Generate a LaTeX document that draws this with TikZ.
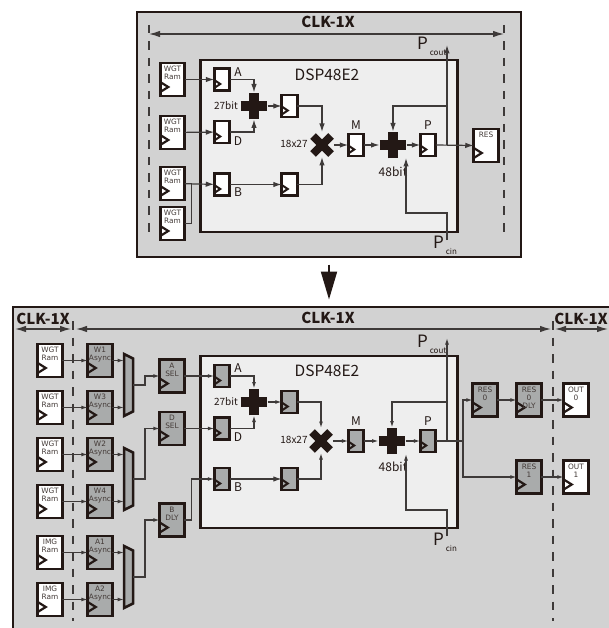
\documentclass[tikz,border=0pt]{standalone}
\usepackage{fontspec}
\setmainfont{Noto Sans CJK SC}
\newfontfamily\boxfont{DejaVu Sans}
\usepackage{xcolor}
\usetikzlibrary{arrows.meta,positioning,shapes.misc}
\definecolor{ink}{HTML}{231815}
\definecolor{wirecol}{HTML}{3E3A39}
\definecolor{panelcol}{HTML}{D2D2D2}
\definecolor{dspcol}{HTML}{EEEEEE}
\definecolor{regcol}{HTML}{A9ABAB}
\newcommand{\boxlines}[1]{\begin{tabular}[t]{@{}c@{}}#1\end{tabular}}
\newcommand{\portsub}[1]{\raisebox{-6pt}{\hspace{2pt}\fontsize{8}{9}\selectfont #1}}

\begin{document}
\begin{tikzpicture}[
x=1pt, y=-1pt,
every node/.style={outer sep=0pt, inner sep=0pt, text=ink},
panel/.style={draw=ink, line width=2.8pt, fill=panelcol},
dsp/.style={draw=ink, line width=2.5pt, fill=dspcol, minimum width=257pt, minimum height=172pt},
clkmark/.style n args={4}{path picture={\draw[ink, line width=#4, line join=miter] ([yshift=-#1+#3]path picture bounding box.west) -- ([xshift=#2,yshift=-#1]path picture bounding box.west) -- ([yshift=-#1-#3]path picture bounding box.west);}},
mem/.style={draw=ink, line width=2.6pt, fill=white, minimum width=24.5pt, minimum height=33pt, clkmark={7.5pt}{8pt}{5pt}{2.2pt}, text height=5pt, text depth=21pt, font=\boxfont\fontsize{7.4}{8}\selectfont, text=ink!85},
stage/.style={mem, fill=regcol},
reg/.style={draw=ink, line width=2.6pt, fill=white, minimum width=15.5pt, minimum height=22pt, clkmark={4.5pt}{6pt}{4pt}{2pt}},
greyreg/.style={reg, fill=regcol},
mux/.style={minimum width=9pt, minimum height=62pt, append after command={\pgfextra{\draw[draw=ink, line width=2.5pt, fill=regcol] (\tikzlastnode.north west) -- ([yshift=-4.5pt]\tikzlastnode.north east) -- ([yshift=4.5pt]\tikzlastnode.south east) -- (\tikzlastnode.south west) -- cycle;}}},
plusop/.style={draw=ink, line width=9.5pt, cross out, rotate=45, minimum size=19pt},
multop/.style={draw=ink, line width=8pt, cross out, minimum size=18pt},
wire/.style={draw=wirecol, line width=1.2pt},
arrow/.style={wire, -{Latex[length=8.5pt, width=5.5pt]}},
smallarrow/.style={wire, -{Latex[length=6.5pt, width=4pt]}},
span/.style={draw=wirecol, line width=1.2pt, {Latex[length=11pt, width=6.5pt]}-{Latex[length=11pt, width=6.5pt]}},
clkline/.style={draw=wirecol, line width=1.2pt, dash pattern=on 8.5pt off 8pt},
clktext/.style={font=\bfseries\fontsize{15}{16}\selectfont},
optext/.style={font=\fontsize{10}{11}\selectfont},
regtext/.style={font=\fontsize{12}{13}\selectfont},
bigoptext/.style={font=\fontsize{12}{13}\selectfont},
titletext/.style={font=\fontsize{15.5}{16}\selectfont},
porttext/.style={anchor=base west, font=\fontsize{17}{18}\selectfont}
]
\useasboundingbox (0,0) rectangle (609,628);

% one clock domain
\node[panel, minimum width=384pt, minimum height=245pt] (tpanel) at (329,134.5) {};
\node[clktext] (tclk) at (328,22) {CLK-1X};
\coordinate (tl) at (149,34);
\coordinate (tr) at (504,34);
\draw[clkline] (149,25) -- (149,232);
\draw[clkline] (504,25) -- (504,232);
\draw[span] (tl) -- (tr);
\node[dsp] (tdsp) at (329,146) {};
\node[titletext] (ttitle) at (327,75) {DSP48E2};

\node[mem] (tw1) at (172.5,79.5) {\boxlines{WGT\\Ram}};
\node[mem, below=20pt of tw1] (tw2) {\boxlines{WGT\\Ram}};
\node[mem, below=18pt of tw2] (tw3) {\boxlines{WGT\\Ram}};
\node[mem, below=7pt of tw3] (tw4) {\boxlines{WGT\\Ram}};
\node[reg] (ta) at (222,79.5) {};
\node[reg, below=30.5pt of ta] (td) {};
\node[reg, below=30.5pt of td] (tb) {};
\node[reg, right=52pt of ta, yshift=-26.5pt] (tc) {};
\node[reg, right=52pt of tb] (te) {};
\node[plusop] (tadd) at (254,106) {};
\node[multop] (tmul) at (322,145) {};
\node[reg] (tm) at (356,145) {};
\node[plusop] (tsum) at (393,145) {};
\node[reg] (tp) at (428,145) {};
\node[mem] (tres) at (486,145.5) {RES};

\node[regtext] (tla) at (238,72) {A};
\node[regtext] (tld) at (238,141) {D};
\node[regtext] (tlb) at (238,192) {B};
\node[regtext] (tlm) at (356,125) {M};
\node[regtext] (tlp) at (428,125) {P};
\node[optext] (tl27) at (226,106) {27bit};
\node[optext] (tl18) at (294,144) {18x27};
\node[bigoptext] (tl48) at (393,172) {48bit};
\node[porttext] (tcout) at (417,50) {P\portsub{cout}};
\node[porttext] (tcin) at (433,248) {P\portsub{cin}};

\coordinate (tpo) at (447,145);
\coordinate (tpi) at (447,240);
\draw[arrow] (tw1) -- (ta);
\draw[arrow] (tw2) -- (td);
\draw[arrow] (tw3) -- (tb);
\draw[wire] (tw4.east) -- ++(7,0) |- (tw3.east);
\draw[arrow] (ta.east) -| ([yshift=13.5pt]tadd.center);
\draw[arrow] (td.east) -| ([yshift=-13.5pt]tadd.center);
\draw[arrow] ([xshift=13.5pt]tadd.center) -- (tc.west);
\draw[arrow] (tc.east) -| ([yshift=13pt]tmul.center);
\draw[arrow] (tb) -- (te);
\draw[arrow] (te.east) -| ([yshift=-12pt]tmul.center);
\draw[arrow] ([xshift=12pt]tmul.center) -- (tm.west);
\draw[arrow] (tm.east) -- ([xshift=-13.5pt]tsum.center);
\draw[arrow] ([xshift=13.5pt]tsum.center) -- (tp.west);
\draw[arrow] (tp.east) -- (tres.west);
\draw[arrow] (tpo) -- (447,45);
\draw[arrow] (447,106) -| ([yshift=13.5pt]tsum.center);
\draw[arrow] (tpi) |- (406,213) -- (406,158);

% down to the three clock domains
\node (dtop) at (329,264) {};
\node (dend) at (329,300) {};
\draw[ink, line width=2pt, -{Triangle[length=28pt, width=16pt]}] (dtop) -- (dend);

\fill[panelcol] (13,307) rectangle (609,628);
\node (bcorner) at (13,307) {};
\draw[ink, line width=2.8pt] (13,628) -- (bcorner.center) -- (609,307);
\node[clktext] (bclk1) at (43,319) {CLK-1X};
\node[clktext] (bclk2) at (328,318) {CLK-1X};
\node[clktext] (bclk3) at (581,319) {CLK-1X};
\coordinate (bl1) at (15,329);
\coordinate (bl2) at (71,329);
\coordinate (bm1) at (76,329);
\coordinate (bm2) at (551,329);
\coordinate (br1) at (555,329);
\coordinate (br2) at (608,329);
\draw[clkline] (73,321) -- (73,621);
\draw[clkline] (553,321) -- (553,621);
\draw[span] (bl1) -- (bl2);
\draw[span] (bm1) -- (bm2);
\draw[span] (br1) -- (br2);
\node[dsp] (bdsp) at (329,442) {};
\node[titletext] (btitle) at (327,371) {DSP48E2};

\node[mem] (bw1) at (50,360.5) {\boxlines{WGT\\Ram}};
\node[mem, below=14pt of bw1] (bw3) {\boxlines{WGT\\Ram}};
\node[mem, below=14pt of bw3] (bw2) {\boxlines{WGT\\Ram}};
\node[mem, below=14pt of bw2] (bw4) {\boxlines{WGT\\Ram}};
\node[mem, below=18pt of bw4] (bi1) {\boxlines{IMG\\Ram}};
\node[mem, below=14pt of bi1] (bi2) {\boxlines{IMG\\Ram}};
\node[stage, right=25.5pt of bw1] (bs1) {\boxlines{W1\\Async}};
\node[stage, right=25.5pt of bw3] (bs3) {\boxlines{W3\\Async}};
\node[stage, right=25.5pt of bw2] (bs2) {\boxlines{W2\\Async}};
\node[stage, right=25.5pt of bw4] (bs4) {\boxlines{W4\\Async}};
\node[stage, right=25.5pt of bi1] (bs5) {\boxlines{A1\\Async}};
\node[stage, right=25.5pt of bi2] (bs6) {\boxlines{A2\\Async}};
\node[mux] (bm12) at (128.5,385) {};
\node[mux] (bm34) at (128.5,479) {};
\node[mux] (bm56) at (128.5,577) {};
\node[stage] (bsa) at (172,376) {\boxlines{A\\SEL}};
\node[stage] (bsd) at (172,428.5) {\boxlines{D\\SEL}};
\node[stage] (bsb) at (172,520) {\boxlines{B\\DLY}};
\node[greyreg] (ba) at (222,376) {};
\node[greyreg] (bd) at (222,428.5) {};
\node[greyreg] (bb) at (222,479) {};
\node[greyreg] (bc) at (289.5,402) {};
\node[greyreg] (be) at (289.5,479) {};
\node[plusop] (badd) at (254,402) {};
\node[multop] (bmul) at (321,441) {};
\node[greyreg] (bm) at (356,441) {};
\node[plusop] (bsum) at (392,441) {};
\node[greyreg] (bp) at (428,441) {};
\node[stage] (bres0) at (485,400) {\boxlines{RES\\0}};
\node[stage] (bdly0) at (529,400) {\boxlines{RES\\0\\DLY}};
\node[mem] (bout0) at (576,400) {\boxlines{OUT\\0}};
\node[stage] (bres1) at (529,477) {\boxlines{RES\\1}};
\node[mem] (bout1) at (576,477) {\boxlines{OUT\\1}};

\node[regtext] (bla) at (238,368) {A};
\node[regtext] (bld) at (238,437) {D};
\node[regtext] (blb) at (238,487) {B};
\node[regtext] (blm) at (356,421) {M};
\node[regtext] (blp) at (428,421) {P};
\node[optext] (bl27) at (226,402) {27bit};
\node[optext] (bl18) at (294,440) {18x27};
\node[bigoptext] (bl48) at (393,467) {48bit};
\node[porttext] (bcout) at (417,347) {P\portsub{cout}};
\node[porttext] (bcin) at (433,545) {P\portsub{cin}};

\coordinate (bpo) at (447,441);
\coordinate (bpi) at (447,536);
\coordinate (bfork) at (463,441);
\draw[smallarrow] (bw1) -- (bs1);
\draw[smallarrow] (bw3) -- (bs3);
\draw[smallarrow] (bw2) -- (bs2);
\draw[smallarrow] (bw4) -- (bs4);
\draw[smallarrow] (bi1) -- (bs5);
\draw[smallarrow] (bi2) -- (bs6);
\draw[smallarrow] (bs1.east) -- (bs1.east -| bm12.west);
\draw[smallarrow] (bs3.east) -- (bs3.east -| bm12.west);
\draw[smallarrow] (bs2.east) -- (bs2.east -| bm34.west);
\draw[smallarrow] (bs4.east) -- (bs4.east -| bm34.west);
\draw[smallarrow] (bs5.east) -- (bs5.east -| bm56.west);
\draw[smallarrow] (bs6.east) -- (bs6.east -| bm56.west);
\draw[smallarrow] (bm12.east) -- ++(12,0) |- (bsa.west);
\draw[smallarrow] (bm34.east) -- ++(12,0) |- (bsd.west);
\draw[smallarrow] (bm56.east) -- ++(12,0) |- (bsb.west);
\draw[smallarrow] (bsa) -- (ba);
\draw[smallarrow] (bsd) -- (bd);
\draw[smallarrow] (bsb.east) -- ++(7,0) |- (bb.west);
\draw[smallarrow] (ba.east) -| ([yshift=13.5pt]badd.center);
\draw[smallarrow] (bd.east) -| ([yshift=-13.5pt]badd.center);
\draw[smallarrow] ([xshift=13.5pt]badd.center) -- (bc.west);
\draw[smallarrow] (bc.east) -| ([yshift=13pt]bmul.center);
\draw[arrow] (bb) -- (be);
\draw[smallarrow] (be.east) -| ([yshift=-12pt]bmul.center);
\draw[smallarrow] ([xshift=12pt]bmul.center) -- (bm.west);
\draw[smallarrow] (bm.east) -- ([xshift=-13.5pt]bsum.center);
\draw[smallarrow] ([xshift=13.5pt]bsum.center) -- (bp.west);
\draw[wire] (bp.east) -- (bfork);
\draw[smallarrow] (bpo) -- (447,338);
\draw[smallarrow] (447,402) -| ([yshift=13.5pt]bsum.center);
\draw[smallarrow] (bpi) |- (406,510) -- (406,454);
\draw[smallarrow] (bfork) |- (bres0.west);
\draw[smallarrow] (bfork) |- (bres1.west);
\draw[smallarrow] (bres0) -- (bdly0);
\draw[smallarrow] (bdly0) -- (bout0);
\draw[smallarrow] (bres1) -- (bout1);
\end{tikzpicture}
\end{document}
